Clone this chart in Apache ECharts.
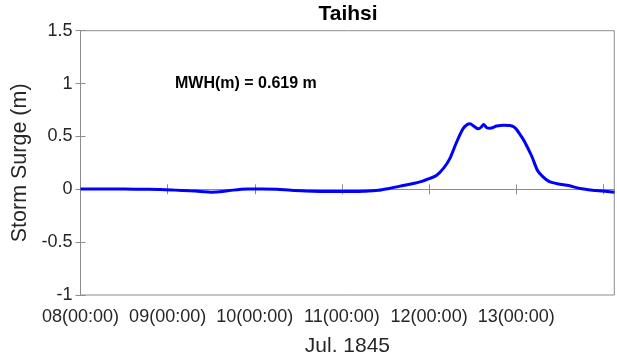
<!DOCTYPE html>
<html>
<head>
<meta charset="utf-8">
<script src="https://cdn.jsdelivr.net/npm/echarts@6/dist/echarts.min.js"></script>
<style>html,body{margin:0;padding:0;background:#fff}#c{width:617px;height:362px}</style>
</head>
<body>
<div id="c"></div>
<script>
const xTickLabels = ['08(00:00)', '09(00:00)', '10(00:00)', '11(00:00)', '12(00:00)', '13(00:00)'];
const yTickLabels = ['-1', '-0.5', '0', '0.5', '1', '1.5'];
const hours = [0, 6, 12, 18, 22, 26, 30, 33, 36, 39, 42, 46, 50, 54, 58, 62, 66, 70, 74, 78, 82, 85, 88, 91, 94, 96, 98, 100, 101.7, 103.5, 105.3, 106.5, 107.3, 108.2, 109.6, 110.4, 111, 111.8, 112.8, 114.6, 116.5, 118.2, 119.3, 120.1, 121.2, 122.3, 124.3, 125.9, 127.3, 129, 131, 134, 138, 142, 145, 147];
const surge = [0.003, 0.003, 0.002, 0.0, -0.002, -0.008, -0.015, -0.02, -0.027, -0.022, -0.008, 0.002, 0.003, 0.0, -0.01, -0.016, -0.02, -0.022, -0.021, -0.018, -0.01, 0.008, 0.03, 0.05, 0.075, 0.1, 0.13, 0.2, 0.29, 0.44, 0.57, 0.612, 0.619, 0.6, 0.572, 0.59, 0.613, 0.585, 0.578, 0.598, 0.606, 0.604, 0.592, 0.565, 0.51, 0.45, 0.31, 0.175, 0.12, 0.075, 0.055, 0.038, 0.005, -0.012, -0.02, -0.028];
const titleText = 'Taihsi';
const annotationText = 'MWH(m) = 0.619 m';
const xLabelText = 'Jul. 1845';
const yLabelText = 'Storm Surge (m)';

const FONT = "'Liberation Sans', Arial, sans-serif";
const axisGray = '#8c8c8c';
const textColor = '#262626';

const chart = echarts.init(document.getElementById('c'), null, {renderer: 'canvas'});
const grid = {left: 80.5, right: 2.7, top: 30.7, bottom: 65.3, show: true, borderColor: axisGray, borderWidth: 1, backgroundColor: '#fff'};

const baseX = {
  type: 'value', min: 0, max: 147, interval: 24,
  splitLine: {show: false},
  axisLine: {show: true, lineStyle: {color: axisGray, width: 1}},
  axisTick: {show: true, inside: true, length: 5, lineStyle: {color: axisGray}}
};
const baseY = {
  type: 'value', min: -1, max: 1.5, interval: 0.5,
  splitLine: {show: false},
  axisLine: {show: true, lineStyle: {color: axisGray, width: 1}},
  axisTick: {show: true, inside: true, length: 5, lineStyle: {color: axisGray}}
};

const data = hours.map((h, i) => [h, surge[i]]);

chart.setOption({
  animation: false,
  textStyle: {fontFamily: FONT},
  title: {
    text: titleText, left: 348, top: 4, textAlign: 'center', padding: 0,
    textStyle: {fontFamily: FONT, fontSize: 21, fontWeight: 'bold', color: '#000'}
  },
  grid: grid,
  xAxis: [
    Object.assign({}, baseX, {
      position: 'bottom',
      name: xLabelText, nameLocation: 'middle', nameGap: 41,
      nameTextStyle: {fontFamily: FONT, fontSize: 21, color: textColor},
      axisLabel: {
        show: true, margin: 13, fontSize: 18, fontFamily: FONT, color: textColor,
        showMaxLabel: false,
        formatter: function (v) {
          const idx = Math.round(v / 24);
          if (Math.abs(v - idx * 24) > 1e-6) return '';
          return xTickLabels[idx] || '';
        }
      }
    }),
    Object.assign({}, baseX, {position: 'top', axisLabel: {show: false}})
  ],
  yAxis: [
    Object.assign({}, baseY, {
      position: 'left',
      name: yLabelText, nameLocation: 'middle', nameGap: 45, nameRotate: 90,
      nameTextStyle: {fontFamily: FONT, fontSize: 21.5, color: textColor},
      axisLabel: {
        show: true, margin: 8, fontSize: 18, fontFamily: FONT, color: textColor,
        formatter: function (v) {
          const idx = Math.round((v + 1) / 0.5);
          return yTickLabels[idx] || '';
        }
      }
    }),
    Object.assign({}, baseY, {position: 'right', axisLabel: {show: false}})
  ],
  graphic: [{
    type: 'text', left: 175, top: 76,
    style: {text: annotationText, fontFamily: FONT, fontSize: 16, fontWeight: 'bold', fill: '#000'}
  }],
  series: [{
    type: 'line', xAxisIndex: 0, yAxisIndex: 0,
    data: data, showSymbol: false, smooth: 0.3,
    lineStyle: {color: '#0000ff', width: 3},
    itemStyle: {color: '#0000ff'}
  }]
});
</script>
</body>
</html>
